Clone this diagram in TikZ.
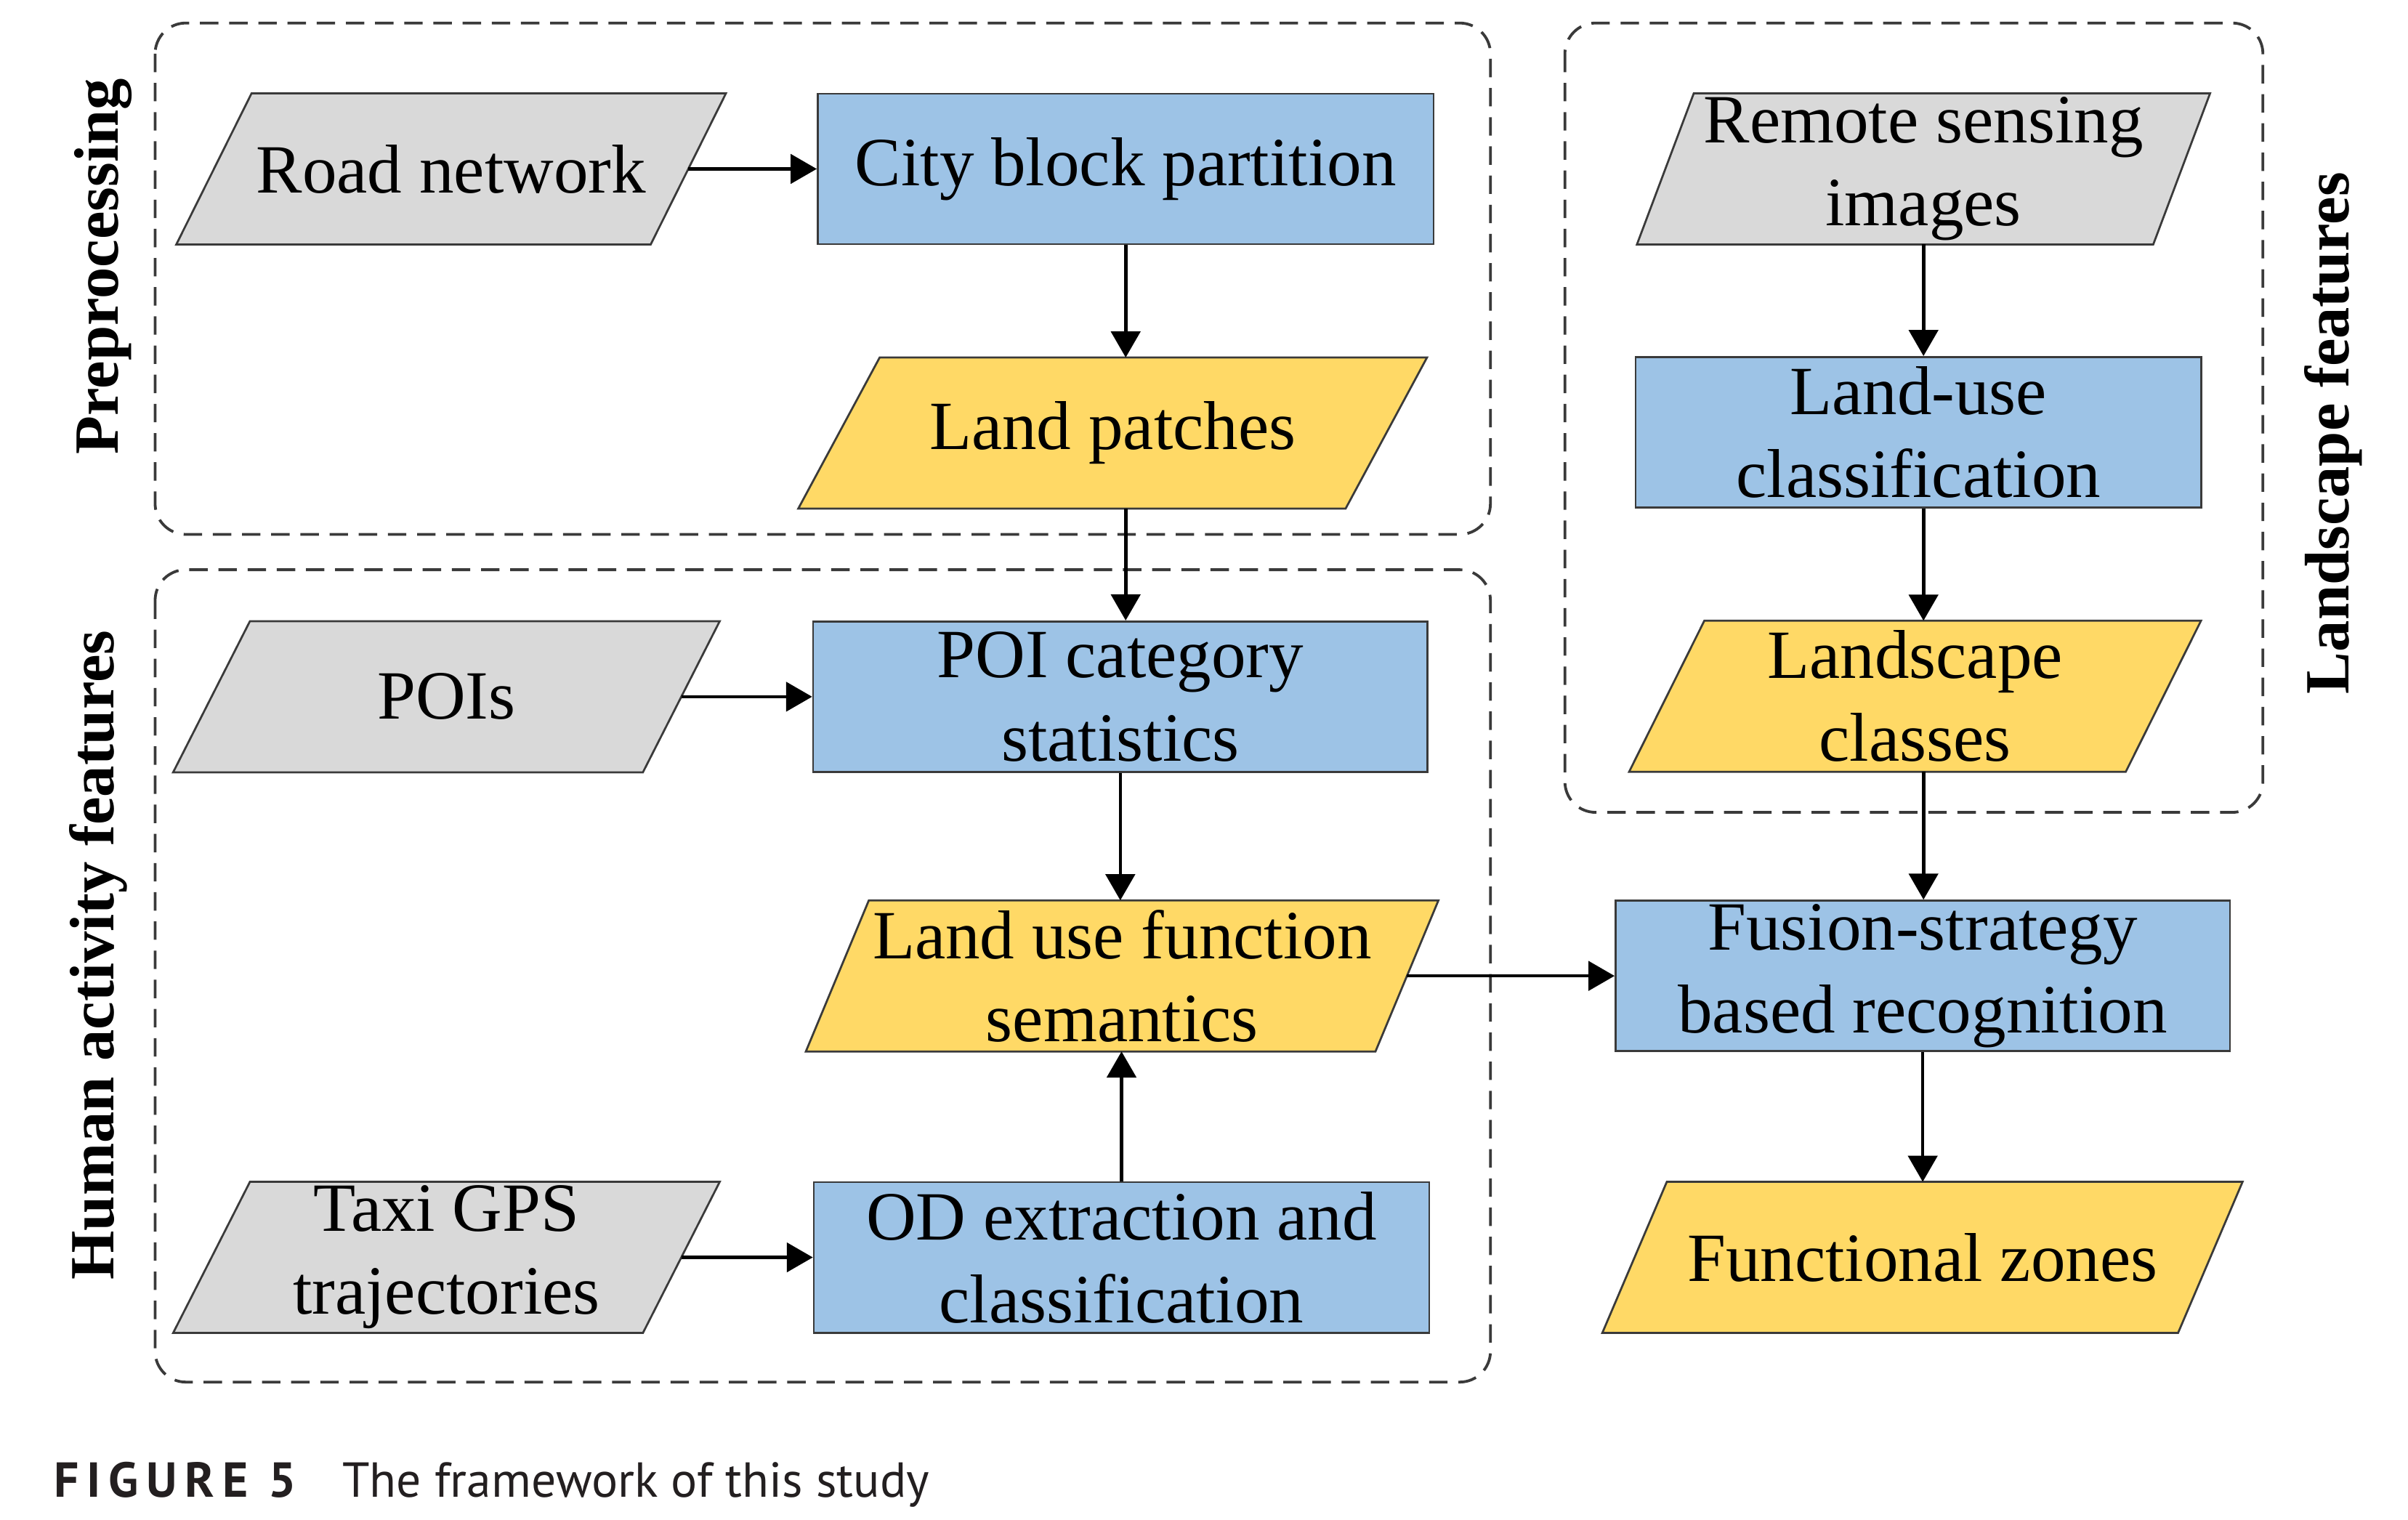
\documentclass[tikz,border=0pt]{standalone}
\usepackage{fontspec}
\setmainfont{Liberation Serif}
\newfontfamily\capfont{PT Sans}
\usetikzlibrary{arrows.meta,backgrounds,calc}

\definecolor{grayfill}{HTML}{D9D9D9}
\definecolor{bluefill}{HTML}{9DC3E6}
\definecolor{yellowfill}{HTML}{FFD966}
\definecolor{edgecol}{HTML}{3A3A3A}
\definecolor{capcol}{HTML}{231F20}

\tikzset{
  box/.style={minimum height=98pt, inner sep=0pt, align=center,
    font=\fontsize{45}{54}\selectfont, text=black},
  procbox/.style={box, draw=edgecol, line width=1.3pt, fill=bluefill},
  databox/.style={box},
  arr/.style={-{Triangle[length=17pt,width=19pt]}, line width=2.2pt, black},
  groupbox/.style={draw=edgecol, dash pattern=on 12pt off 7pt, line width=1.8pt, rounded corners=20pt},
  sidelabel/.style={font=\fontsize{41}{49}\selectfont\bfseries, rotate=90, inner sep=0pt},
}

\newcommand\datashape[3]{%
  \begin{scope}[on background layer]
    \draw[edgecol, line width=1.3pt, fill=#2]
      ($(#1.south west)+(-#3/2,0)$) -- ($(#1.south east)+(-#3/2,0)$) --
      ($(#1.north east)+(#3/2,0)$) -- ($(#1.north west)+(#3/2,0)$) -- cycle;
  \end{scope}}

\begin{document}
\begin{tikzpicture}[x=1pt,y=-1pt]
\useasboundingbox (0,0) rectangle (1568,989.8);
\begin{scope}[on background layer]
\fill[white] (0,0) rectangle (1568,989.8);
\end{scope}

% groups
\draw[groupbox] (101,15) rectangle (970.5,348);
\draw[groupbox] (101,371) rectangle (970.5,900);
\draw[groupbox] (1019,15) rectangle (1473.5,529);

% side labels
\node[sidelabel] (lpre) at (67,173.5) {Preprocessing};
\node[sidelabel] (lhum) at (64,622) {Human activity features};
\node[sidelabel] (lland) at (1519.5,282) {Landscape features};

% nodes
\node[databox, minimum width=308.5pt] (rn) at (293.75,110) {Road network};
\node[procbox, minimum width=401pt] (cbp) at (733,110) {City block partition};
\node[databox, minimum width=356pt] (lp) at (724.5,282) {Land patches};

\node[databox, minimum width=305.5pt] (pois) at (290.7,453.7) {POIs};
\node[procbox, minimum width=400pt] (pcs) at (729.5,453.7) {POI category\\statistics};
\node[databox, minimum width=370.5pt] (luf) at (730.7,635.5) {Land use function\\semantics};
\node[databox, minimum width=305.5pt] (taxi) at (290.7,818.8) {Taxi GPS\\trajectories};
\node[procbox, minimum width=400.7pt] (od) at (730.3,818.8) {OD extraction and\\classification};

\node[databox, minimum width=335.8pt] (rs) at (1252.5,110) {Remote sensing\\images};
\node[procbox, minimum width=368.3pt] (luc) at (1249.2,281.5) {Land-use\\classification};
\node[databox, minimum width=323pt] (lc) at (1247,453.4) {Landscape\\classes};
\node[procbox, minimum width=400pt] (fsr) at (1252,635.5) {Fusion-strategy\\based recognition};
\node[databox, minimum width=374.5pt] (fz) at (1251.8,818.8) {Functional zones};

\datashape{rn}{grayfill}{49pt}
\datashape{lp}{yellowfill}{53pt}
\datashape{pois}{grayfill}{50pt}
\datashape{luf}{yellowfill}{41pt}
\datashape{taxi}{grayfill}{50pt}
\datashape{rs}{grayfill}{37pt}
\datashape{lc}{yellowfill}{49pt}
\datashape{fz}{yellowfill}{42pt}

% connectors
\draw[arr] (rn.east) -- (cbp.west);
\draw[arr] (cbp.south) -- (cbp.south |- lp.north);
\draw[arr] (cbp.south |- lp.south) -- (cbp.south |- pcs.north);
\draw[arr] (pois.east) -- (pcs.west);
\draw[arr] (pcs.south) -- (pcs.south |- luf.north);
\draw[arr] (od.north) -- (od.north |- luf.south);
\draw[arr] (taxi.east) -- (od.west);
\draw[arr] (rs.south) -- (rs.south |- luc.north);
\draw[arr] (rs.south |- luc.south) -- (rs.south |- lc.north);
\draw[arr] (rs.south |- lc.south) -- (rs.south |- fsr.north);
\draw[arr] (luf.east) -- (fsr.west);
\draw[arr] (fsr.south) -- (fsr.south |- fz.north);

% caption
\node[anchor=base west, inner sep=0pt, text=capcol,
  font=\capfont\fontsize{32}{36}\selectfont] (cap) at (35,974.7)
  {{\bfseries\addfontfeature{LetterSpace=16}FIGURE 5}\hspace{30pt}The framework of this study};
\end{tikzpicture}
\end{document}
